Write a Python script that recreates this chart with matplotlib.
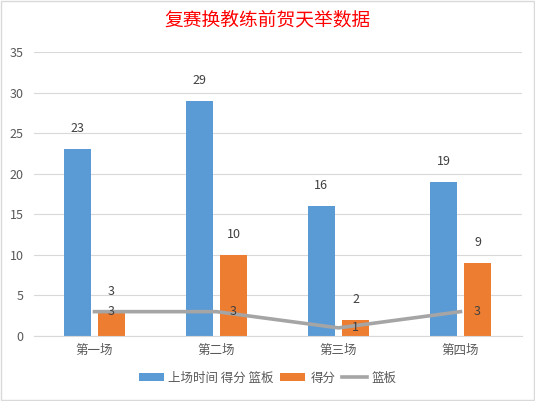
import numpy as np
import matplotlib.pyplot as plt
from matplotlib.patches import Rectangle

plt.rcParams['font.family'] = ['Noto Sans CJK SC', 'DejaVu Sans']

# data
games = ['第一场', '第二场', '第三场', '第四场']
minutes = [23, 29, 16, 19]
points = [3, 10, 2, 9]
rebounds = [3, 3, 1, 3]

blue = '#5B9BD5'
orange = '#ED7D31'
gray = '#A5A5A5'
txt = '#595959'

fig = plt.figure(figsize=(5.35, 4.01), dpi=100)
ax = fig.add_axes([33.5 / 535, 1 - 336 / 401, 488 / 535, 284 / 401])

x = np.arange(len(games))
w = 0.22
b1 = ax.bar(x - 0.14, minutes, w, color=blue, label='上场时间 得分 篮板', zorder=2)
b2 = ax.bar(x + 0.14, points, w, color=orange, label='得分', zorder=2)
ln, = ax.plot(x, rebounds, color=gray, lw=2.6, label='篮板', zorder=3)

for r, v in zip(b1, minutes):
    ax.annotate(str(v), (r.get_x() + r.get_width() / 2, v), xytext=(0, 10),
                textcoords='offset points', ha='center', va='bottom', fontsize=9, color='#404040')
for r, v in zip(b2, points):
    ax.annotate(str(v), (r.get_x() + r.get_width() / 2, v), xytext=(0, 10),
                textcoords='offset points', ha='center', va='bottom', fontsize=9, color='#404040')
for xi, v in zip(x, rebounds):
    ax.annotate(str(v), (xi, v), xytext=(12, 0), textcoords='offset points',
                ha='center', va='center', fontsize=9, color='#404040', zorder=4)

ax.set_xlim(-0.5, len(games) - 0.5)
ax.set_ylim(0, 35)
ax.set_yticks(range(0, 36, 5))
ax.set_xticks(x)
ax.set_xticklabels(games)
ax.grid(axis='y', color='#D9D9D9', lw=0.8, zorder=0)
for s in ['top', 'right', 'left']:
    ax.spines[s].set_visible(False)
ax.spines['bottom'].set_color('#D9D9D9')
ax.tick_params(axis='both', length=0, colors=txt, labelsize=9)
ax.tick_params(axis='y', pad=7)
ax.tick_params(axis='x', pad=6)

fig.text(0.5, 1 - 20 / 401, '复赛换教练前贺天举数据', ha='center', va='center',
         fontsize=13.5, color='#FF0000', fontweight='light')
fig.legend(handles=[b1, b2, ln], loc='center', bbox_to_anchor=(0.5, 1 - 378 / 401),
           ncol=3, frameon=False, fontsize=9, handlelength=2.0, handleheight=0.6,
           columnspacing=0.5, handletextpad=0.4, labelcolor=txt)

fig.patches.append(Rectangle((0.002, 0.002), 0.996, 0.996, transform=fig.transFigure,
                             fill=False, edgecolor='#D9D9D9', lw=1))

fig.savefig('out.png', dpi=100)
